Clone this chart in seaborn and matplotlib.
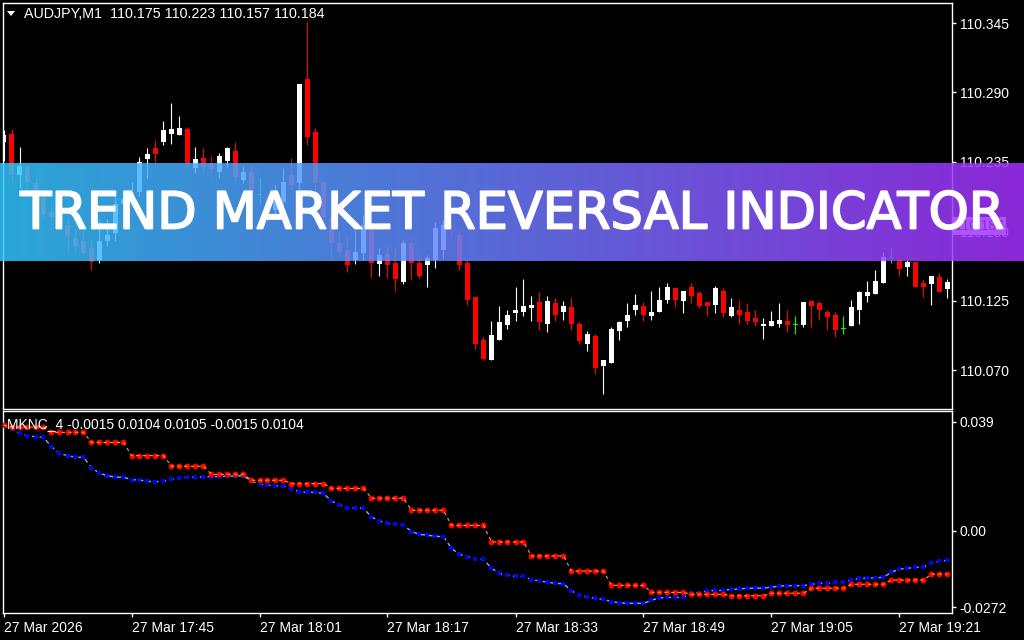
import numpy as np
import pandas as pd
import matplotlib
matplotlib.use('Agg')
import matplotlib.pyplot as plt
import matplotlib.patheffects as pe
from matplotlib.colors import LinearSegmentedColormap
from matplotlib.patches import Polygon
import seaborn as sns

# AUDJPY M1, 119 one-minute bars (27 Mar 17:29 .. 19:27)
opens = [110.251, 110.257, 110.225, 110.231, 110.218, 110.207, 110.195, 110.191, 110.185, 110.175,
         110.172, 110.167, 110.157, 110.172, 110.179, 110.202, 110.206, 110.211, 110.237, 110.246,
         110.251, 110.257, 110.256, 110.261, 110.230, 110.238, 110.234, 110.227, 110.236, 110.244,
         110.221, 110.227, 110.209, 110.207, 110.197, 110.203, 110.225, 110.218, 110.301, 110.259,
         110.219, 110.191, 110.171, 110.165, 110.157, 110.163, 110.183, 110.154, 110.162, 110.155,
         110.140, 110.171, 110.155, 110.153, 110.157, 110.165, 110.184, 110.177, 110.155, 110.128,
         110.094, 110.078, 110.094, 110.106, 110.115, 110.116, 110.119, 110.124, 110.107, 110.123,
         110.116, 110.120, 110.107, 110.091, 110.097, 110.073, 110.076, 110.101, 110.109, 110.118,
         110.121, 110.113, 110.116, 110.126, 110.135, 110.125, 110.136, 110.131, 110.124, 110.122,
         110.133, 110.113, 110.118, 110.116, 110.111, 110.105, 110.105, 110.107, 110.109, 110.106,
         110.106, 110.125, 110.123, 110.116, 110.114, 110.103, 110.105, 110.118, 110.129, 110.130,
         110.139, 110.159, 110.157, 110.152, 110.156, 110.139, 110.138, 110.144, 110.134]
highs = [110.260, 110.261, 110.247, 110.233, 110.223, 110.213, 110.199, 110.198, 110.191, 110.183,
         110.180, 110.173, 110.189, 110.190, 110.211, 110.213, 110.219, 110.239, 110.246, 110.252,
         110.267, 110.282, 110.271, 110.263, 110.247, 110.246, 110.240, 110.242, 110.247, 110.251,
         110.232, 110.232, 110.222, 110.210, 110.217, 110.230, 110.238, 110.297, 110.346, 110.262,
         110.221, 110.194, 110.180, 110.176, 110.181, 110.193, 110.187, 110.167, 110.169, 110.167,
         110.173, 110.176, 110.161, 110.161, 110.187, 110.189, 110.187, 110.181, 110.159, 110.129,
         110.096, 110.109, 110.121, 110.118, 110.136, 110.142, 110.129, 110.132, 110.129, 110.127,
         110.125, 110.127, 110.108, 110.101, 110.099, 110.078, 110.104, 110.109, 110.123, 110.130,
         110.124, 110.133, 110.136, 110.139, 110.136, 110.133, 110.139, 110.133, 110.124, 110.137,
         110.135, 110.127, 110.126, 110.123, 110.118, 110.111, 110.117, 110.123, 110.118, 110.113,
         110.124, 110.125, 110.125, 110.118, 110.116, 110.113, 110.126, 110.133, 110.141, 110.149,
         110.164, 110.167, 110.160, 110.157, 110.156, 110.142, 110.145, 110.147, 110.142]
lows = [110.236, 110.219, 110.214, 110.214, 110.198, 110.191, 110.180, 110.183, 110.163, 110.163,
        110.161, 110.149, 110.155, 110.168, 110.172, 110.197, 110.201, 110.208, 110.222, 110.234,
        110.248, 110.249, 110.256, 110.230, 110.226, 110.226, 110.223, 110.222, 110.231, 110.219,
        110.218, 110.206, 110.202, 110.185, 110.193, 110.199, 110.213, 110.213, 110.248, 110.210,
        110.187, 110.157, 110.162, 110.148, 110.154, 110.157, 110.144, 110.145, 110.143, 110.133,
        110.138, 110.142, 110.143, 110.136, 110.151, 110.159, 110.176, 110.149, 110.122, 110.087,
        110.078, 110.078, 110.094, 110.103, 110.109, 110.113, 110.109, 110.102, 110.100, 110.109,
        110.110, 110.102, 110.091, 110.085, 110.067, 110.051, 110.076, 110.094, 110.104, 110.114,
        110.109, 110.110, 110.116, 110.123, 110.120, 110.115, 110.123, 110.119, 110.113, 110.115,
        110.112, 110.112, 110.107, 110.107, 110.105, 110.095, 110.105, 110.104, 110.100, 110.099,
        110.104, 110.104, 110.110, 110.102, 110.096, 110.099, 110.105, 110.107, 110.124, 110.130,
        110.139, 110.155, 110.145, 110.145, 110.136, 110.128, 110.122, 110.132, 110.127]
closes = [110.256, 110.225, 110.232, 110.219, 110.202, 110.194, 110.191, 110.185, 110.176, 110.168,
          110.163, 110.156, 110.172, 110.177, 110.202, 110.206, 110.211, 110.235, 110.241, 110.241,
          110.260, 110.261, 110.262, 110.233, 110.237, 110.231, 110.229, 110.240, 110.246, 110.223,
          110.227, 110.210, 110.209, 110.189, 110.210, 110.219, 110.217, 110.297, 110.255, 110.218,
          110.191, 110.171, 110.164, 110.153, 110.164, 110.185, 110.155, 110.161, 110.153, 110.142,
          110.171, 110.155, 110.145, 110.159, 110.183, 110.185, 110.183, 110.153, 110.126, 110.091,
          110.079, 110.098, 110.108, 110.114, 110.118, 110.121, 110.122, 110.108, 110.125, 110.114,
          110.121, 110.107, 110.093, 110.099, 110.072, 110.078, 110.103, 110.108, 110.114, 110.122,
          110.114, 110.116, 110.126, 110.136, 110.126, 110.133, 110.129, 110.121, 110.121, 110.135,
          110.115, 110.120, 110.114, 110.109, 110.108, 110.107, 110.109, 110.110, 110.106, 110.106,
          110.124, 110.121, 110.118, 110.112, 110.102, 110.103, 110.120, 110.132, 110.132, 110.141,
          110.160, 110.159, 110.150, 110.156, 110.136, 110.136, 110.145, 110.132, 110.140]

# MKNC_4 indicator buffers (red step line, blue line)
mknc_red = [0.0378, 0.0371, 0.0371, 0.0371, 0.0371, 0.0371, 0.0352, 0.0352, 0.0352, 0.0352,
            0.0352, 0.0316, 0.0316, 0.0316, 0.0316, 0.0316, 0.0269, 0.0269, 0.0269, 0.0269,
            0.0269, 0.0231, 0.0231, 0.0231, 0.0231, 0.0231, 0.0202, 0.0202, 0.0202, 0.0202,
            0.0202, 0.0181, 0.0181, 0.0181, 0.0181, 0.0181, 0.0169, 0.0169, 0.0169, 0.0169,
            0.0169, 0.0152, 0.0152, 0.0152, 0.0152, 0.0152, 0.0117, 0.0117, 0.0117, 0.0117,
            0.0117, 0.0074, 0.0074, 0.0074, 0.0074, 0.0074, 0.0020, 0.0020, 0.0020, 0.0020,
            0.0020, -0.0039, -0.0039, -0.0039, -0.0039, -0.0039, -0.0089, -0.0089, -0.0089, -0.0089,
            -0.0089, -0.0143, -0.0143, -0.0143, -0.0143, -0.0143, -0.0194, -0.0194, -0.0194, -0.0194,
            -0.0194, -0.0219, -0.0219, -0.0219, -0.0219, -0.0219, -0.0226, -0.0226, -0.0226, -0.0226,
            -0.0226, -0.0231, -0.0231, -0.0231, -0.0231, -0.0231, -0.0222, -0.0222, -0.0222, -0.0222,
            -0.0222, -0.0204, -0.0204, -0.0204, -0.0204, -0.0204, -0.0190, -0.0190, -0.0190, -0.0190,
            -0.0190, -0.0175, -0.0175, -0.0175, -0.0175, -0.0175, -0.0154, -0.0154, -0.0154]
mknc_blue = [0.0375, 0.0364, 0.0349, 0.0340, 0.0336, 0.0334, 0.0301, 0.0277, 0.0269, 0.0263,
             0.0263, 0.0226, 0.0206, 0.0197, 0.0192, 0.0192, 0.0183, 0.0182, 0.0177, 0.0176,
             0.0177, 0.0184, 0.0188, 0.0192, 0.0192, 0.0193, 0.0194, 0.0194, 0.0195, 0.0196,
             0.0197, 0.0178, 0.0167, 0.0163, 0.0162, 0.0161, 0.0150, 0.0140, 0.0138, 0.0138,
             0.0134, 0.0107, 0.0093, 0.0083, 0.0081, 0.0081, 0.0050, 0.0036, 0.0027, 0.0025,
             0.0021, -0.0002, -0.0012, -0.0015, -0.0019, -0.0020, -0.0062, -0.0083, -0.0092, -0.0100,
             -0.0101, -0.0133, -0.0151, -0.0158, -0.0162, -0.0162, -0.0174, -0.0178, -0.0183, -0.0187,
             -0.0188, -0.0214, -0.0228, -0.0237, -0.0240, -0.0244, -0.0252, -0.0256, -0.0258, -0.0258,
             -0.0258, -0.0247, -0.0239, -0.0237, -0.0237, -0.0237, -0.0222, -0.0220, -0.0214, -0.0212,
             -0.0212, -0.0208, -0.0207, -0.0204, -0.0204, -0.0204, -0.0200, -0.0197, -0.0195, -0.0195,
             -0.0195, -0.0190, -0.0187, -0.0187, -0.0183, -0.0183, -0.0175, -0.0169, -0.0168, -0.0167,
             -0.0165, -0.0147, -0.0136, -0.0133, -0.0130, -0.0128, -0.0115, -0.0107, -0.0105]

price_ticks = [110.345, 110.290, 110.235, 110.180, 110.125, 110.070]
ind_ticks = [0.039, 0.0, -0.0272]
ind_tick_labels = ['0.039', '0.00', '-0.0272']
time_tick_bars = [0, 16, 32, 48, 64, 80, 96, 112]
time_tick_labels = ['27 Mar 2026', '27 Mar 17:45', '27 Mar 18:01', '27 Mar 18:17',
                    '27 Mar 18:33', '27 Mar 18:49', '27 Mar 19:05', '27 Mar 19:21']
header_text = 'AUDJPY,M1  110.175 110.223 110.157 110.184'
ind_header = 'MKNC_4 -0.0015 0.0104 0.0105 -0.0015 0.0104'
bid_price = 110.184
banner_title = 'TREND MARKET REVERSAL INDICATOR'

W, H = 1024, 640
PX = 0.000792  # price per pixel in the main window


def px_axes(fig, x0, y0, x1, y1):
    return fig.add_axes([x0 / W, 1 - y1 / H, (x1 - x0) / W, (y1 - y0) / H])


def style_panel(ax):
    ax.set_facecolor('black')
    for s in ax.spines.values():
        s.set_color('white')
        s.set_linewidth(1)
    ax.grid(False)
    ax.set_xlabel('')
    ax.set_ylabel('')


def main():
    sns.set_theme(style='ticks', rc={'axes.facecolor': 'black', 'figure.facecolor': 'black',
                                     'text.color': 'white', 'xtick.color': 'white',
                                     'ytick.color': 'white', 'axes.grid': False})
    plt.rcParams['font.family'] = ['Liberation Sans', 'DejaVu Sans']

    df = pd.DataFrame({'open': opens, 'high': highs, 'low': lows, 'close': closes})
    df['bar'] = np.arange(len(df))
    df['color'] = np.where(df['close'] > df['open'], 'white',
                           np.where(df['close'] < df['open'], '#ff0000', '#00ff00'))
    df['bottom'] = df[['open', 'close']].min(axis=1)
    df['height'] = (df['close'] - df['open']).abs().clip(lower=PX)

    fig = plt.figure(figsize=(W / 100, H / 100), dpi=100, facecolor='black')

    xl = (-0.0625, (952 - 3.5) / 8)

    # main price window
    ax = px_axes(fig, 3, 2.5, 952, 409)
    style_panel(ax)
    ax.vlines(df['bar'], df['low'], df['high'], colors=df['color'], linewidth=0.8)
    ax.bar(df['bar'], df['height'], bottom=df['bottom'], width=0.62, color=df['color'], linewidth=0)
    ax.set_xlim(*xl)
    ax.set_ylim(110.345 - (409 - 23) * PX, 110.345 + (23 - 2.5) * PX)
    ax.set_xticks([])
    ax.yaxis.tick_right()
    ax.set_yticks(price_ticks)
    ax.set_yticklabels([f'{p:.3f}' for p in price_ticks])
    ax.tick_params(axis='y', length=3, width=1, pad=2.5, labelsize=10, colors='white')
    ax.text(1 + 3 / 949, bid_price, '110.184', transform=ax.get_yaxis_transform(),
            ha='left', va='center', color='black', fontsize=10,
            bbox=dict(boxstyle='square,pad=0.15', fc='white', ec='none'))

    # indicator window
    ind = pd.DataFrame({'bar': np.arange(len(mknc_red)), 'red': mknc_red, 'blue': mknc_blue})
    ax2 = px_axes(fig, 3, 411, 952, 613)
    sns.lineplot(data=ind, x='bar', y='blue', ax=ax2, color='#6cb8ff', linewidth=1.0,
                 linestyle=(0, (3, 2.5)))
    sns.scatterplot(data=ind, x='bar', y='blue', ax=ax2, color='#0000ff', s=5, marker='s',
                    linewidth=0, zorder=3)
    sns.scatterplot(data=ind, x='bar', y='red', ax=ax2, color='#ff0000', s=18, linewidth=0,
                    zorder=3)
    sns.lineplot(data=ind, x='bar', y='red', ax=ax2, color='#ffa500', linewidth=0.8,
                 linestyle=(0, (3, 3)), zorder=4)
    style_panel(ax2)
    ax2.set_xlim(*xl)
    ax2.set_ylim(-82 / 2803, 120 / 2803)
    ax2.yaxis.tick_right()
    ax2.set_yticks(ind_ticks)
    ax2.set_yticklabels(ind_tick_labels)
    ax2.set_xticks(time_tick_bars)
    ax2.set_xticklabels(time_tick_labels, ha='left')
    ax2.tick_params(axis='y', length=3, width=1, pad=2.5, labelsize=10, colors='white')
    ax2.tick_params(axis='x', length=3, width=1, pad=2.5, labelsize=10, colors='white')

    # window headers
    fig.patches.append(Polygon([(7 / W, 1 - 11 / H), (15 / W, 1 - 11 / H), (11 / W, 1 - 16 / H)],
                               closed=True, transform=fig.transFigure, fc='white', ec='none'))
    fig.text(24 / W, 1 - 14 / H, header_text, ha='left', va='center', fontsize=10.3, color='white')
    fig.text(7 / W, 1 - 424 / H, ind_header, ha='left', va='center', fontsize=10, color='white',
             zorder=10)

    # gradient banner over the chart
    bax = fig.add_axes([0, 1 - 261 / H, 1, 98 / H])
    bax.set_zorder(20)
    bax.axis('off')
    cmap = LinearSegmentedColormap.from_list('banner', ['#31c6fe', '#a52ffe'])
    bax.imshow(np.linspace(0, 1, 512)[None, :], aspect='auto', cmap=cmap, alpha=0.85,
               extent=[0, 1, 0, 1])
    bax.set_xlim(0, 1)
    bax.set_ylim(0, 1)
    title = bax.text(0.5, (261 - 228.5) / 98, banner_title, ha='center', va='baseline',
                     color='white', fontsize=33, fontweight='normal', family='DejaVu Sans')
    fig.canvas.draw()
    bb = title.get_window_extent()
    # stretch to the width of the reference title
    title.set_fontsize(33 * 985 / bb.width)
    title.set_path_effects([pe.withStroke(linewidth=1.3, foreground='white')])

    fig.savefig('out.png', dpi=100, facecolor='black')
    plt.close(fig)


if __name__ == '__main__':
    main()
